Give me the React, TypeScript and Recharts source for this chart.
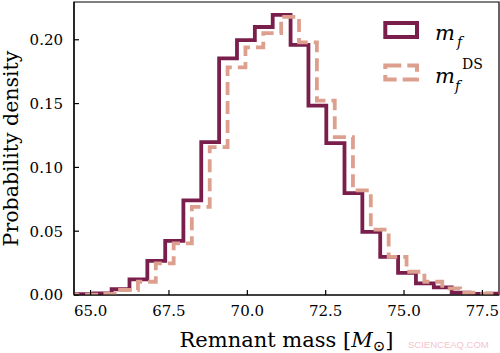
import React from 'react';
import { ComposedChart, Line, XAxis, YAxis, Legend, ReferenceArea } from 'recharts';

const xTicks = [65, 67.5, 70, 72.5, 75, 77.5];
const yTicks = [0, 0.05, 0.1, 0.15, 0.2];
const xDomain = [64.47, 78.03];
const yDomain = [0, 0.2296];

// m_f histogram (bin edges and densities)
const solidEdges = [64.53, 65.10, 65.67, 66.24, 66.81, 67.38, 67.96, 68.53, 69.10, 69.67, 70.24, 70.81, 71.38, 71.95, 72.52, 73.10, 73.67, 74.24, 74.81, 75.38, 75.95, 76.52, 77.09, 77.66, 78.23];
const solidDensity = [0.0006, 0.0013, 0.0045, 0.0123, 0.0268, 0.0424, 0.0742, 0.1198, 0.1854, 0.1998, 0.2100, 0.2195, 0.1960, 0.1484, 0.1190, 0.0799, 0.0495, 0.0299, 0.0174, 0.0091, 0.0060, 0.0018, 0.0008, 0.0010];

// m_f^DS histogram
const dashedEdges = [64.23, 64.80, 65.37, 65.94, 66.51, 67.08, 67.65, 68.23, 68.80, 69.37, 69.94, 70.51, 71.08, 71.65, 72.22, 72.79, 73.37, 73.94, 74.51, 75.08, 75.65, 76.22, 76.79, 77.36, 77.93, 78.50];
const dashedDensity = [0.0002, 0.0003, 0.0008, 0.0039, 0.0104, 0.0248, 0.0404, 0.0690, 0.1159, 0.1784, 0.1940, 0.2052, 0.2180, 0.1980, 0.1523, 0.1237, 0.0820, 0.0513, 0.0299, 0.0182, 0.0104, 0.0052, 0.0018, 0.0010, 0.0005];

const SOLID = '#7a1f4c';
const DASHED = '#dea08e';
const SERIF = "'DejaVu Serif', serif";

const toSteps = (edges: number[], dens: number[]) => [
  { x: edges[0], y: 0 },
  ...dens.map((d, i) => ({ x: edges[i], y: d })),
  { x: edges[edges.length - 1], y: 0 },
];

const solidSteps = toSteps(solidEdges, solidDensity);
const dashedSteps = toSteps(dashedEdges, dashedDensity);

const XLabel = (props: any) => {
  const vb = props.viewBox || { x: 74, y: 295, width: 425, height: 58 };
  const cx = vb.x + vb.width / 2;
  const y = vb.y + 51.5;
  return (
    <g>
      <text x={cx} y={y} textAnchor="middle" fontFamily={SERIF} fontSize={21} fill="#000">
        Remnant mass [<tspan fontStyle="italic">M</tspan>
        <tspan fontSize={15} dy={4}>⊙</tspan>
        <tspan dy={-4}>]</tspan>
      </text>
      <text x={408} y={348} fontFamily="'Liberation Sans', Arial, sans-serif" fontSize={9.5} fill="#f3c4cf">
        SCIENCEAQ.COM
      </text>
    </g>
  );
};

const YLabel = (props: any) => {
  const vb = props.viewBox || { x: 0, y: 2, width: 74, height: 293 };
  const cy = vb.y + vb.height / 2;
  const x = 18;
  return (
    <text
      x={x}
      y={cy}
      transform={`rotate(-90, ${x}, ${cy})`}
      textAnchor="middle"
      fontFamily={SERIF}
      fontSize={20.5}
      fill="#000"
    >
      Probability density
    </text>
  );
};

const LegendBox = () => (
  <svg width={120} height={85} style={{ display: 'block', overflow: 'visible' }}>
    <rect x={10.3} y={8} width={31.7} height={14} fill="none" stroke={SOLID} strokeWidth={4} />
    <text x={60} y={25} fontFamily={SERIF} fontStyle="italic" fontSize={21} fill="#000">m</text>
    <text x={82} y={32} fontFamily={SERIF} fontStyle="italic" fontSize={14} fill="#000">f</text>
    <rect x={10.3} y={50.5} width={31.7} height={14} fill="none" stroke={DASHED} strokeWidth={4} strokeDasharray="16 6" />
    <text x={60} y={68.3} fontFamily={SERIF} fontStyle="italic" fontSize={21} fill="#000">m</text>
    <text x={80} y={76} fontFamily={SERIF} fontStyle="italic" fontSize={14} fill="#000">f</text>
    <text x={87} y={53.5} fontFamily={SERIF} fontSize={14} fill="#000">DS</text>
  </svg>
);

export default function App() {
  return (
    <div style={{ position: 'absolute', left: 0, top: 0 }}>
      <ComposedChart width={500} height={353} margin={{ top: 2, right: 1, left: 0, bottom: 0 }}>
        <XAxis
          dataKey="x"
          type="number"
          domain={xDomain}
          allowDataOverflow
          ticks={xTicks}
          tickFormatter={(v: number) => v.toFixed(1)}
          height={58}
          tickSize={-5}
          tickMargin={15.4}
          axisLine={{ stroke: '#000', strokeWidth: 1.2 }}
          tickLine={{ stroke: '#000', strokeWidth: 1.2 }}
          tick={{ fontFamily: SERIF, fontSize: 15, fill: '#000' }}
          interval={0}
          label={(p: any) => <XLabel {...p} />}
        />
        <YAxis
          type="number"
          domain={yDomain}
          allowDataOverflow
          ticks={yTicks}
          tickFormatter={(v: number) => v.toFixed(2)}
          width={74}
          tickSize={-5}
          tickMargin={16}
          axisLine={{ stroke: '#000', strokeWidth: 1.2 }}
          tickLine={{ stroke: '#000', strokeWidth: 1.2 }}
          tick={{ fontFamily: SERIF, fontSize: 15, fill: '#000' }}
          interval={0}
          label={(p: any) => <YLabel {...p} />}
        />
        <Line
          data={solidSteps}
          dataKey="y"
          type="stepAfter"
          stroke={SOLID}
          strokeWidth={3.8}
          dot={false}
          activeDot={false}
          isAnimationActive={false}
          strokeLinejoin="miter"
        />
        <Line
          data={dashedSteps}
          dataKey="y"
          type="stepAfter"
          stroke={DASHED}
          strokeWidth={3.8}
          strokeDasharray="13 6"
          dot={false}
          activeDot={false}
          isAnimationActive={false}
          strokeLinejoin="miter"
        />
        <ReferenceArea
          x1={xDomain[0]}
          x2={xDomain[1]}
          y1={yDomain[0]}
          y2={yDomain[1]}
          ifOverflow="visible"
          fill="none"
          fillOpacity={0}
          stroke="#000"
          strokeWidth={1.2}
        />
        <Legend
          layout="vertical"
          align="center"
          verticalAlign="middle"
          wrapperStyle={{ position: 'absolute', left: 375, top: 15, width: 120, height: 85 }}
          content={() => <LegendBox />}
        />
      </ComposedChart>
    </div>
  );
}
